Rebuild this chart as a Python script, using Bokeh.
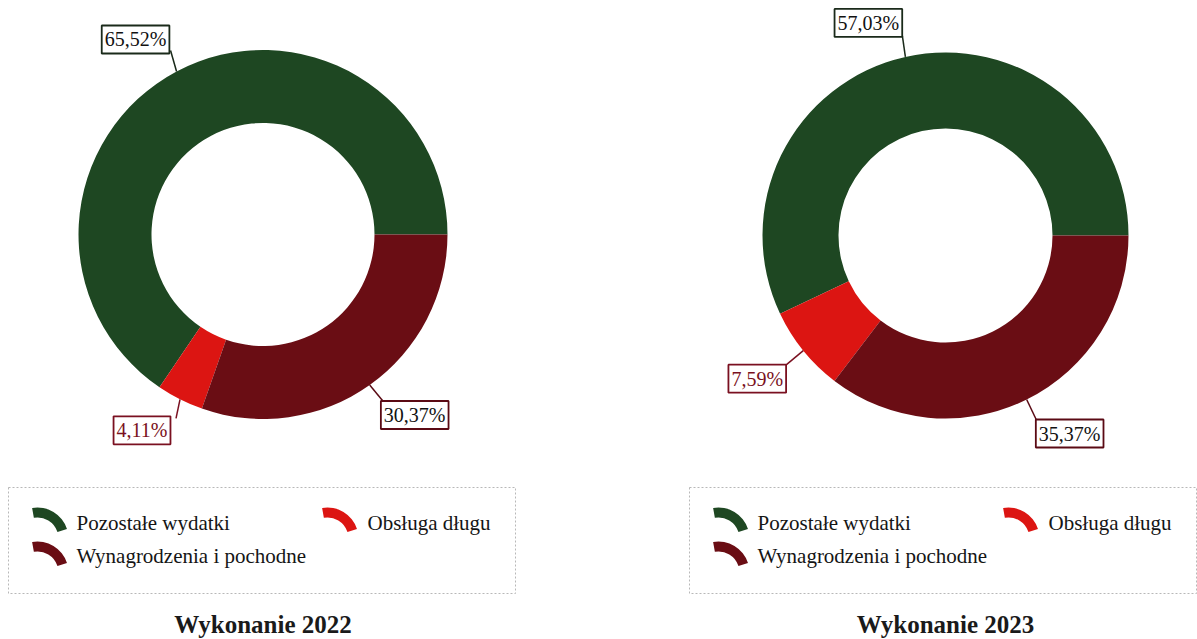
import math
from bokeh.plotting import figure
from bokeh.models import Range1d, Label
from bokeh.core.properties import value
from bokeh.embed import file_html
from bokeh.resources import INLINE

# ---- data ----
titles = ["Wykonanie 2022", "Wykonanie 2023"]
categories = ["Pozostałe wydatki", "Obsługa długu", "Wynagrodzenia i pochodne"]
shares_2022 = [65.52, 4.11, 30.37]
shares_2023 = [57.03, 7.59, 35.37]
colors = ["#1e4722", "#dc1512", "#6a0d14"]

# ---- layout / style ----
W, H = 1197, 639
FONT = value("Liberation Serif")


def S(X, Y):
    """reference screen px -> data coordinates"""
    return X, H - Y


p = figure(width=W, height=H, x_range=Range1d(0, W), y_range=Range1d(0, H),
           output_backend="svg", toolbar_location=None, min_border=0,
           x_axis_type=None, y_axis_type=None)
p.grid.visible = False
p.outline_line_color = None
p.background_fill_color = "white"

panels = [
    dict(shares=shares_2022, center=(262.5, 234), r_out=184.5, r_in=111.5, title=titles[0],
         legend_dx=0,
         box_off=[(-41, -32), (-38, 31), (45, 30)],
         line_off=[(-6, -21), (-4, 19), (14, 17)]),
    dict(shares=shares_2023, center=(945, 235), r_out=183, r_in=107, title=titles[1],
         legend_dx=681,
         box_off=[(-37, -34), (-46, 28), (43, 34)],
         line_off=[(-3, -21), (-18, 15), (10, 21)]),
]

label_text_colors = ["#111111", "#7a1020", "#111111"]
label_border_colors = ["#1a2a1a", "#7a1020", "#5a0a14"]

for pan in panels:
    shares = pan["shares"]
    total = sum(shares)
    cx, cy = S(*pan["center"])
    start = 0.0
    for i, v in enumerate(shares):
        a0 = start / total * 2 * math.pi
        a1 = (start + v) / total * 2 * math.pi
        p.annular_wedge(x=[cx], y=[cy], inner_radius=pan["r_in"], outer_radius=pan["r_out"],
                        start_angle=[a0], end_angle=[a1], fill_color=colors[i],
                        line_color=None)
        mid = (a0 + a1) / 2
        ax = cx + pan["r_out"] * math.cos(mid)
        ay = cy + pan["r_out"] * math.sin(mid)
        bdx, bdy = pan["box_off"][i]
        ldx, ldy = pan["line_off"][i]
        p.line(x=[ax, ax + ldx], y=[ay, ay - ldy], line_color=label_border_colors[i],
               line_width=1.5)
        lab = Label(x=ax + bdx, y=ay - bdy, text=f"{v:.2f}%".replace(".", ","),
                    text_align="center", text_baseline="middle",
                    text_font="Liberation Serif", text_font_size="20px",
                    text_color=label_text_colors[i],
                    border_line_color=label_border_colors[i], border_line_width=1.8,
                    background_fill_color="white", padding=3)
        p.add_layout(lab)
        start += v

    # legend box
    dx = pan["legend_dx"]
    x0, y0 = S(8 + dx, 593)
    x1, y1 = S(515 + dx, 487)
    p.quad(left=[x0], right=[x1], bottom=[y0], top=[y1], fill_color=None,
           line_color="#b8b8b8", line_dash="2 2", line_width=1)
    entries = [(37, 538, 76, 522), (327, 538, 367, 522), (37, 572, 76, 555)]
    order = [0, 1, 2]
    for k, (ix, iy, tx, ty) in zip(order, entries):
        icx, icy = S(ix + dx, iy)
        p.annular_wedge(x=[icx], y=[icy], inner_radius=21, outer_radius=31,
                        start_angle=[18], end_angle=[100], start_angle_units="deg",
                        end_angle_units="deg", fill_color=colors[k], line_color=None)
        ttx, tty = S(tx + dx, ty)
        p.text(x=[ttx], y=[tty], text=[categories[k]], text_font=FONT,
               text_font_size="21px", text_baseline="middle", text_align="left",
               text_color="#151515")

    # title
    tx, ty = S(pan["center"][0], 624)
    p.text(x=[tx], y=[ty], text=[pan["title"]], text_font=FONT, text_font_size="25px",
           text_font_style="bold", text_align="center", text_baseline="middle",
           text_color="#1a1a1a")

open("out.html", "w").write(file_html(p, INLINE))
